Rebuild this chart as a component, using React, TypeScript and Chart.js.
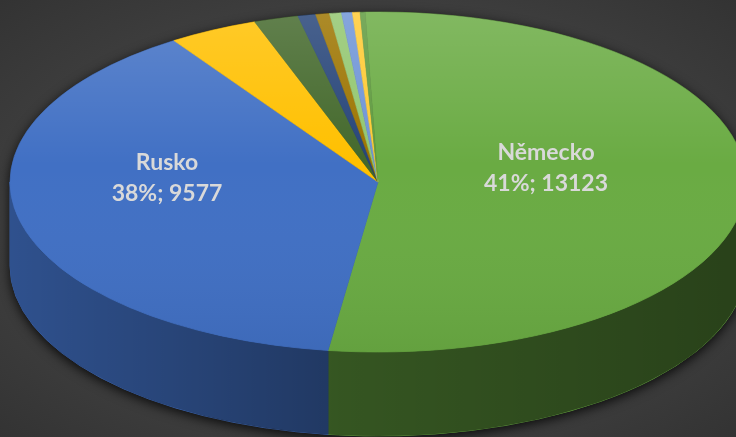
import React, { useEffect, useRef } from "react";
import { Chart, registerables } from "chart.js";

Chart.register(...registerables);

// ---- data ----
const categories = [
  "Německo",
  "Rusko",
  "Ostatní 1",
  "Ostatní 2",
  "Ostatní 3",
  "Ostatní 4",
  "Ostatní 5",
  "Ostatní 6",
  "Ostatní 7",
  "Ostatní 8",
];
const values = [13123, 9577, 975, 485, 195, 150, 130, 118, 83, 55];
const sliceColors = [
  "#6AAB43",
  "#4170C4",
  "#FFC000",
  "#43682B",
  "#264478",
  "#9C7400",
  "#92C66F",
  "#6E94D6",
  "#FFCA33",
  "#5E9A3E",
];
const labelIndexes = [0, 1];
const labelPercents = ["41%", "38%"];

// ---- geometry / style ----
const CX = 378;
const CY = 182;
const RX = 368;
const RY = 170;
const DEPTH = 84;
const LABEL_POS: Record<number, { x: number; y: number }> = {
  0: { x: 546, y: 159.5 },
  1: { x: 167, y: 169.5 },
};
const LINE_GAP = 31;

const pie3d = {
  id: "pie3d",
  beforeDatasetsDraw(chart: any) {
    const ctx: CanvasRenderingContext2D = chart.ctx;
    const meta = chart.getDatasetMeta(0);
    const arcs = meta.data;
    if (!arcs.length) return;
    const a0 = arcs[0];
    const ax = a0.x;
    const ay = a0.y;
    const r0 = a0.outerRadius;

    // drop shadow silhouette
    ctx.save();
    ctx.shadowColor = "rgba(0,0,0,0.85)";
    ctx.shadowBlur = 12;
    ctx.shadowOffsetY = 3;
    ctx.fillStyle = "#1e1e1e";
    ctx.beginPath();
    ctx.ellipse(CX, CY, RX, RY, 0, Math.PI, 2 * Math.PI);
    ctx.lineTo(CX + RX, CY + DEPTH);
    ctx.ellipse(CX, CY + DEPTH, RX, RY, 0, 0, Math.PI);
    ctx.closePath();
    ctx.fill();
    ctx.restore();

    // side walls (front half) from the arc elements' angles
    ctx.save();
    arcs.forEach((arc: any, i: number) => {
      const { startAngle, endAngle } = arc.getProps(["startAngle", "endAngle"], true);
      const ranges: [number, number][] = [
        [Math.max(startAngle, 0), Math.min(endAngle, Math.PI)],
        [Math.max(startAngle, 2 * Math.PI), Math.min(endAngle, 3 * Math.PI)],
      ];
      const col = sliceColors[i % sliceColors.length];
      ranges.forEach(([s, e]) => {
        if (e <= s) return;
        ctx.beginPath();
        ctx.ellipse(CX, CY, RX, RY, 0, s, e);
        ctx.ellipse(CX, CY + DEPTH, RX, RY, 0, e, s, true);
        ctx.closePath();
        ctx.fillStyle = col;
        ctx.fill();
        ctx.strokeStyle = col;
        ctx.lineWidth = 0.8;
        ctx.stroke();
      });
    });
    // darken walls with horizontal shading
    const g = ctx.createLinearGradient(CX - RX, 0, CX + RX, 0);
    g.addColorStop(0, "rgba(0,0,0,0.28)");
    g.addColorStop(0.45, "rgba(0,0,0,0.5)");
    g.addColorStop(1, "rgba(0,0,0,0.62)");
    ctx.beginPath();
    ctx.ellipse(CX, CY, RX, RY, 0, 0, Math.PI);
    ctx.ellipse(CX, CY + DEPTH, RX, RY, 0, Math.PI, 0, true);
    ctx.closePath();
    ctx.fillStyle = g;
    ctx.fill();
    ctx.restore();

    // squash the pie into the top ellipse
    ctx.save();
    ctx.translate(CX, CY);
    ctx.scale(RX / r0, RY / r0);
    ctx.translate(-ax, -ay);
  },
  afterDatasetsDraw(chart: any) {
    const ctx: CanvasRenderingContext2D = chart.ctx;
    const meta = chart.getDatasetMeta(0);
    const arcs = meta.data;
    if (!arcs.length) return;
    const a0 = arcs[0];
    const ax = a0.x;
    const ay = a0.y;
    const r0 = a0.outerRadius;

    // top-surface lighting
    const lg = ctx.createLinearGradient(0, ay - r0, 0, ay + r0);
    lg.addColorStop(0, "rgba(255,255,255,0.16)");
    lg.addColorStop(0.45, "rgba(255,255,255,0.0)");
    lg.addColorStop(1, "rgba(0,0,0,0.06)");
    ctx.beginPath();
    ctx.arc(ax, ay, r0, 0, Math.PI * 2);
    ctx.fillStyle = lg;
    ctx.fill();
    ctx.restore();

    // data labels
    ctx.save();
    ctx.font = "bold 23px Lato, 'Open Sans', sans-serif";
    ctx.fillStyle = "#d9d9d9";
    ctx.textAlign = "center";
    ctx.textBaseline = "alphabetic";
    labelIndexes.forEach((idx, k) => {
      const p = LABEL_POS[idx];
      if (!p) return;
      ctx.fillText(categories[idx], p.x, p.y);
      ctx.fillText(`${labelPercents[k]}; ${values[idx]}`, p.x, p.y + LINE_GAP);
    });
    ctx.restore();
  },
};

export default function App() {
  const ref = useRef<HTMLCanvasElement>(null);
  useEffect(() => {
    document.body.style.margin = "0";
    const chart = new Chart(ref.current as HTMLCanvasElement, {
      type: "pie",
      data: {
        labels: categories,
        datasets: [
          {
            data: values,
            backgroundColor: sliceColors,
            borderColor: sliceColors,
            borderWidth: 0.5,
          },
        ],
      },
      options: {
        responsive: false,
        maintainAspectRatio: false,
        animation: false,
        events: [],
        rotation: -2,
        layout: { padding: 0 },
        plugins: {
          legend: { display: false },
          tooltip: { enabled: false },
        },
      },
      plugins: [pie3d],
    } as any);
    return () => chart.destroy();
  }, []);
  return (
    <div
      style={{
        position: "fixed",
        left: 0,
        top: 0,
        width: 736,
        height: 437,
        overflow: "hidden",
        background:
          "radial-gradient(ellipse 75% 75% at 50% 50%, #4c4c4c 0%, #414141 55%, #313131 100%)",
      }}
    >
      <canvas ref={ref} width={736} height={437} style={{ display: "block" }} />
    </div>
  );
}
